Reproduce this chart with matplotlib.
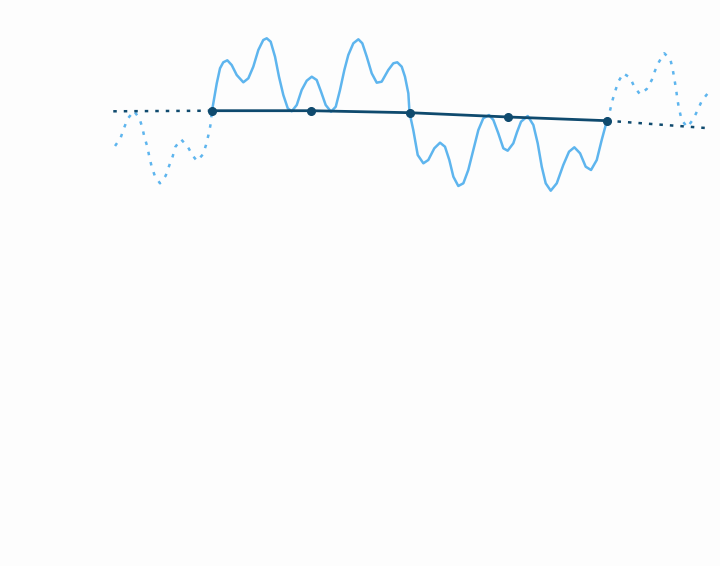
import numpy as np
import matplotlib.pyplot as plt

# signal, x in time units (markers at 0, 10, 20, 30, 40)
sig_left_x = [-9.82, -9.25, -8.91, -8.54, -7.90, -7.36, -7.06, -6.86, -6.55, -6.35,
              -6.11, -5.80, -5.27, -4.69, -4.35, -3.98, -3.72, -3.14, -2.46, -1.95,
              -1.52, -0.91, -0.61, -0.37, -0.17, 0.0]
sig_left_y = [-3.5, -2.67, -1.7, -0.77, 0.0, -0.73, -1.63, -2.57, -3.57, -4.57,
              -5.57, -6.47, -7.23, -6.47, -5.5, -4.53, -3.6, -2.83, -3.57, -4.47,
              -5.0, -4.33, -3.4, -2.43, -1.47, 0.03]

sig_mid_x = [0.0, 0.13, 0.48, 0.81, 1.14, 1.55, 1.99, 2.50, 3.17, 3.68,
             4.18, 4.69, 5.19, 5.54, 5.94, 6.38, 6.78, 7.22, 7.67, 8.07,
             8.58, 9.08, 9.59, 10.10, 10.60, 11.04, 11.51, 12.05, 12.53, 12.96,
             13.40, 13.80, 14.31, 14.82, 15.22, 15.67, 16.17, 16.68, 17.18, 17.85,
             18.36, 18.76, 19.21, 19.54, 19.88, 20.0, 20.38, 20.83, 21.40, 21.90,
             22.51, 23.09, 23.59, 24.03, 24.44, 24.94, 25.45, 25.95, 26.46, 26.97,
             27.47, 28.05, 28.49, 28.99, 29.50, 29.94, 30.51, 30.89, 31.29, 31.97,
             32.54, 32.98, 33.39, 33.79, 34.30, 34.91, 35.57, 36.15, 36.69, 37.27,
             37.84, 38.38, 38.96, 39.46, 39.87, 40.0]
sig_mid_y = [0.03, 0.77, 2.77, 4.27, 4.87, 5.07, 4.6, 3.6, 2.87, 3.27,
             4.43, 6.1, 7.1, 7.27, 6.93, 5.43, 3.43, 1.6, 0.27, -0.03,
             0.6, 2.1, 3.03, 3.43, 3.1, 1.93, 0.6, -0.07, 0.43, 2.1,
             4.1, 5.6, 6.77, 7.17, 6.77, 5.43, 3.77, 2.83, 2.93, 4.1,
             4.77, 4.87, 4.43, 3.43, 1.77, -0.17, -1.9, -4.4, -5.23, -4.9,
             -3.73, -3.17, -3.57, -4.9, -6.57, -7.5, -7.23, -5.9, -3.9, -1.9,
             -0.73, -0.4, -0.9, -2.23, -3.73, -3.97, -3.23, -2.1, -1.07, -0.5,
             -1.4, -3.23, -5.57, -7.23, -7.97, -7.23, -5.4, -4.07, -3.63, -4.23,
             -5.57, -5.9, -4.9, -2.9, -1.4, -0.97]

sig_right_x = [40.0, 40.30, 40.54, 40.81, 41.14, 41.65, 42.33, 42.76, 43.34, 44.02,
               44.53, 44.86, 45.27, 45.80, 46.41, 46.65, 46.82, 46.99, 47.12, 47.29,
               47.56, 48.13, 48.74, 49.18, 49.59, 50.20]
sig_right_y = [-0.97, 0.03, 1.03, 1.93, 2.93, 3.77, 3.33, 2.43, 1.67, 2.2,
               3.1, 4.03, 4.93, 5.77, 5.17, 4.17, 3.2, 2.2, 1.2, 0.23,
               -0.9, -1.63, -0.8, 0.1, 1.0, 1.77]

# trend through the sample points
trend_x = [0, 10, 20, 30, 40]
trend_y = [0.03, 0.03, -0.17, -0.6, -0.97]
trend_left_x = [-10, 0]
trend_left_y = [-0.03, 0.03]
trend_right_x = [40, 50]
trend_right_y = [-0.97, -1.7]

light = '#5eb5ee'
dark = '#0f4a6e'
bg = '#fdfdfd'

fig = plt.figure(figsize=(7.2, 5.66), dpi=100, facecolor=bg)
ax = fig.add_axes([0, 0, 1, 1])
ax.set_facecolor(bg)

dots = (0, (1.4, 2.8))
ax.plot(sig_left_x, sig_left_y, color=light, lw=1.8, linestyle=dots)
ax.plot(sig_right_x, sig_right_y, color=light, lw=1.8, linestyle=dots)
ax.plot(sig_mid_x, sig_mid_y, color=light, lw=1.8,
        solid_joinstyle='round', solid_capstyle='round')

ax.plot(trend_left_x, trend_left_y, color=dark, lw=1.8, linestyle=dots)
ax.plot(trend_right_x, trend_right_y, color=dark, lw=1.8, linestyle=dots)
ax.plot(trend_x, trend_y, color=dark, lw=2.0, marker='o', ms=5.5)

ax.set_xlim(-21.47, 51.44)
ax.set_ylim(-45.5, 11.1)
ax.axis('off')

plt.savefig('out.png', dpi=100, facecolor=bg)
